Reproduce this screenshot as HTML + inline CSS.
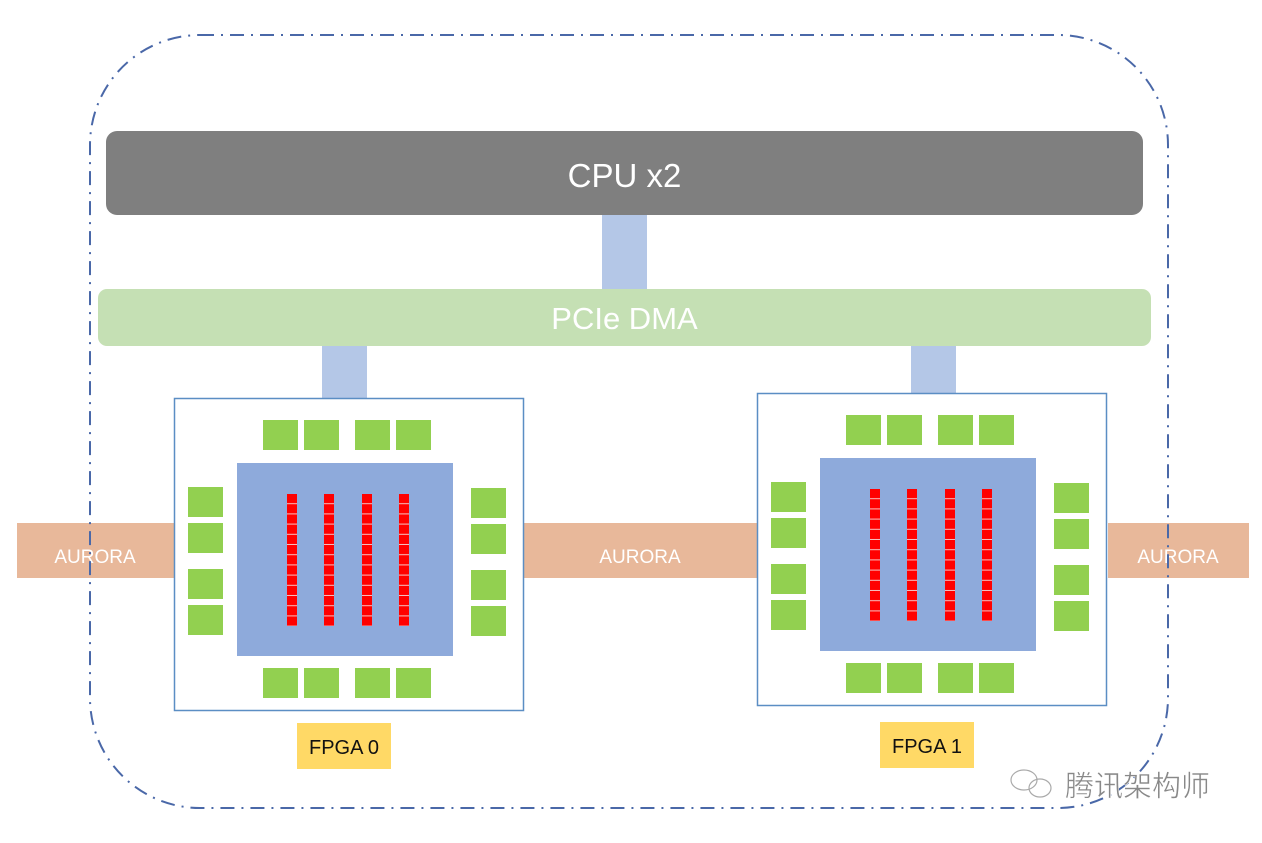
<!DOCTYPE html>
<html><head><meta charset="utf-8"><style>
html,body{margin:0;padding:0;background:#fff;}
svg{display:block;}
text{font-family:"Liberation Sans","Noto Sans CJK SC",sans-serif;}
</style></head><body>
<svg width="1262" height="843" viewBox="0 0 1262 843" xmlns="http://www.w3.org/2000/svg">
<defs>
<pattern id="red" x="0" y="494" width="10" height="10.2" patternUnits="userSpaceOnUse">
<rect width="10" height="10.2" fill="#f00"/><rect y="9.2" width="10" height="1" fill="#f6c0c0"/>
</pattern>
<g id="fpga">
<rect x="174.5" y="398.5" width="349" height="312" fill="#fff" stroke="#5b8ec4" stroke-width="1.5"/>
<rect x="237" y="463" width="216" height="193" fill="#8eaadb"/>
<g fill="#92d050">
<rect x="263" y="420" width="35" height="30"/><rect x="304" y="420" width="35" height="30"/>
<rect x="355" y="420" width="35" height="30"/><rect x="396" y="420" width="35" height="30"/>
<rect x="263" y="668" width="35" height="30"/><rect x="304" y="668" width="35" height="30"/>
<rect x="355" y="668" width="35" height="30"/><rect x="396" y="668" width="35" height="30"/>
<rect x="188" y="487" width="35" height="30"/><rect x="188" y="523" width="35" height="30"/>
<rect x="188" y="569" width="35" height="30"/><rect x="188" y="605" width="35" height="30"/>
<rect x="471" y="488" width="35" height="30"/><rect x="471" y="524" width="35" height="30"/>
<rect x="471" y="570" width="35" height="30"/><rect x="471" y="606" width="35" height="30"/>
</g>
<rect x="287" y="494" width="10" height="132" fill="url(#red)"/>
<rect x="324" y="494" width="10" height="132" fill="url(#red)"/>
<rect x="362" y="494" width="10" height="132" fill="url(#red)"/>
<rect x="399" y="494" width="10" height="132" fill="url(#red)"/>
</g>
</defs>

<!-- connectors -->
<rect x="602" y="214" width="45" height="76" fill="#b4c7e7"/>
<rect x="322" y="345" width="45" height="54" fill="#b4c7e7"/>
<rect x="911" y="345" width="45" height="49" fill="#b4c7e7"/>

<!-- aurora -->
<rect x="17" y="523" width="157" height="55" fill="#e8b89a"/>
<rect x="523" y="523" width="234" height="55" fill="#e8b89a"/>
<rect x="1108" y="523" width="141" height="55" fill="#e8b89a"/>
<g fill="#fff" font-size="19" text-anchor="middle">
<text x="95" y="563">AURORA</text>
<text x="640" y="563">AURORA</text>
<text x="1178" y="563">AURORA</text>
</g>

<use href="#fpga"/>
<use href="#fpga" transform="translate(583,-5)"/>

<rect x="106" y="131" width="1037" height="84" rx="11" fill="#7f7f7f"/>
<text x="624.5" y="187" fill="#fff" font-size="33" text-anchor="middle">CPU x2</text>
<rect x="98" y="289" width="1053" height="57" rx="9" fill="#c5e0b4"/>
<text x="624.5" y="329" fill="#fff" font-size="31" text-anchor="middle">PCIe DMA</text>

<rect x="297" y="723" width="94" height="46" fill="#ffd966"/>
<text x="344" y="754" font-size="20" text-anchor="middle" fill="#111">FPGA 0</text>
<rect x="880" y="722" width="94" height="46" fill="#ffd966"/>
<text x="927" y="753" font-size="20" text-anchor="middle" fill="#111">FPGA 1</text>

<rect x="90" y="35" width="1078" height="773" rx="110" ry="110" fill="none" stroke="#4a68a8" stroke-width="2" stroke-dasharray="14 7 2 7"/>

<g fill="none" stroke="#aaa" stroke-width="1.2">
<ellipse cx="1024" cy="780" rx="13" ry="10"/>
<ellipse cx="1040" cy="788" rx="11" ry="9"/>
</g>
<text x="1065" y="796" font-size="29" fill="#888" stroke="#fff" stroke-width="0.5">腾讯架构师</text>
</svg>
</body></html>
